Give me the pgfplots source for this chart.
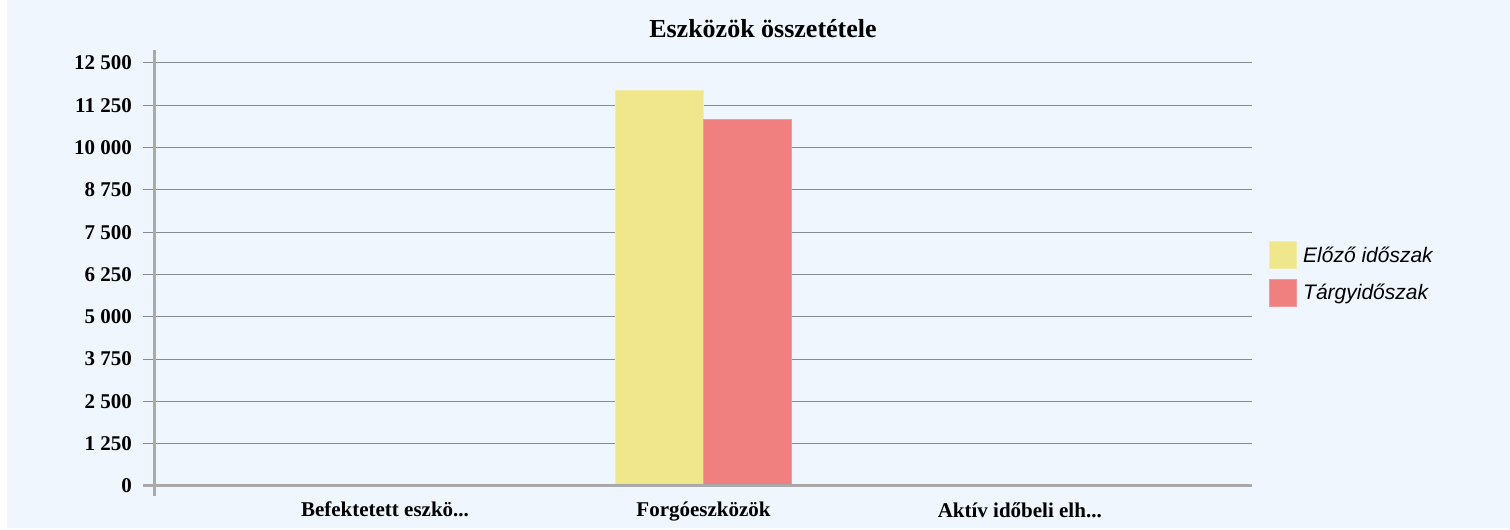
\documentclass[border=0pt]{standalone}
\usepackage{pgfplots}
\pgfplotsset{compat=1.18}
\usepackage{fontspec}
\setmainfont{Liberation Serif}
\newfontfamily\legfont{Liberation Sans}
\definecolor{bg}{RGB}{239,246,253}
\definecolor{gridc}{RGB}{135,140,145}
\definecolor{axc}{RGB}{170,170,170}
\definecolor{yel}{RGB}{240,230,140}
\definecolor{redc}{RGB}{240,128,128}
\begin{document}
\begin{tikzpicture}[x=1pt,y=1pt]
\useasboundingbox (-155,-44) rectangle (1355,486);
\fill[white] (-155,-44) rectangle (1355,486);
\fill[bg] (-148,-42) rectangle (1355,486);
\node[font=\fontsize{26}{30}\selectfont\bfseries, anchor=base] at (608,448) {Eszközök összetétele};
\begin{axis}[
  at={(0,0)}, anchor=origin,
  scale only axis, width=1097pt, height=423pt,
  xmin=0, xmax=3, ymin=0, ymax=12500,
  axis x line*=bottom, axis y line*=left,
  axis line style={draw=none},
  clip=false,
  scaled y ticks=false,
  ybar=0pt, bar width=88pt,
  ytick={0,1250,2500,3750,5000,6250,7500,8750,10000,11250,12500},
  yticklabels={0,1 250,2 500,3 750,5 000,6 250,7 500,8 750,10 000,11 250,12 500},
  ymajorgrids, grid style={gridc, line width=1pt},
  tick align=outside, major tick length=12pt,
  ytick style={gridc, line width=1pt},
  yticklabel style={font=\fontsize{21}{24}\selectfont\bfseries, inner sep=0pt, xshift=-11pt},
  xtick={0.629,1.5,2.365},
  xticklabels={{Befektetett eszkö.{}.{}.},{Forgóeszközök},{Aktív időbeli elh.{}.{}.}},
  xtick style={draw=none},
  xticklabel style={font=\fontsize{21}{24}\selectfont\bfseries, inner sep=0pt, yshift=-4pt},
  legend style={at={(1.0155,0.501)}, anchor=west, draw=none, fill=none, inner sep=0pt,
    row sep=9.5pt, font=\fontsize{21}{24}\selectfont\legfont\itshape,
    nodes={inner sep=0pt, anchor=west}},
  legend cell align=left,
  legend image code/.code={\fill[#1] (0pt,-13.5pt) rectangle (27pt,13.5pt);},
  /tikz/every even column/.append style={column sep=0pt},
]
\addplot[fill=yel, draw=yel!75!white, line width=1pt] coordinates {(1.5,11700)};
\addplot[fill=redc, draw=redc!80!white, line width=1pt] coordinates {(1.5,10830)};
\legend{\hspace{6pt}Előző időszak,\hspace{6pt}Tárgyidőszak}
\draw[axc, line width=3pt] (rel axis cs:0,-0.024) -- (rel axis cs:0,1.03);
\draw[axc, line width=3pt] (rel axis cs:-0.011,0) -- (rel axis cs:1,0);
\end{axis}
\end{tikzpicture}
\end{document}
